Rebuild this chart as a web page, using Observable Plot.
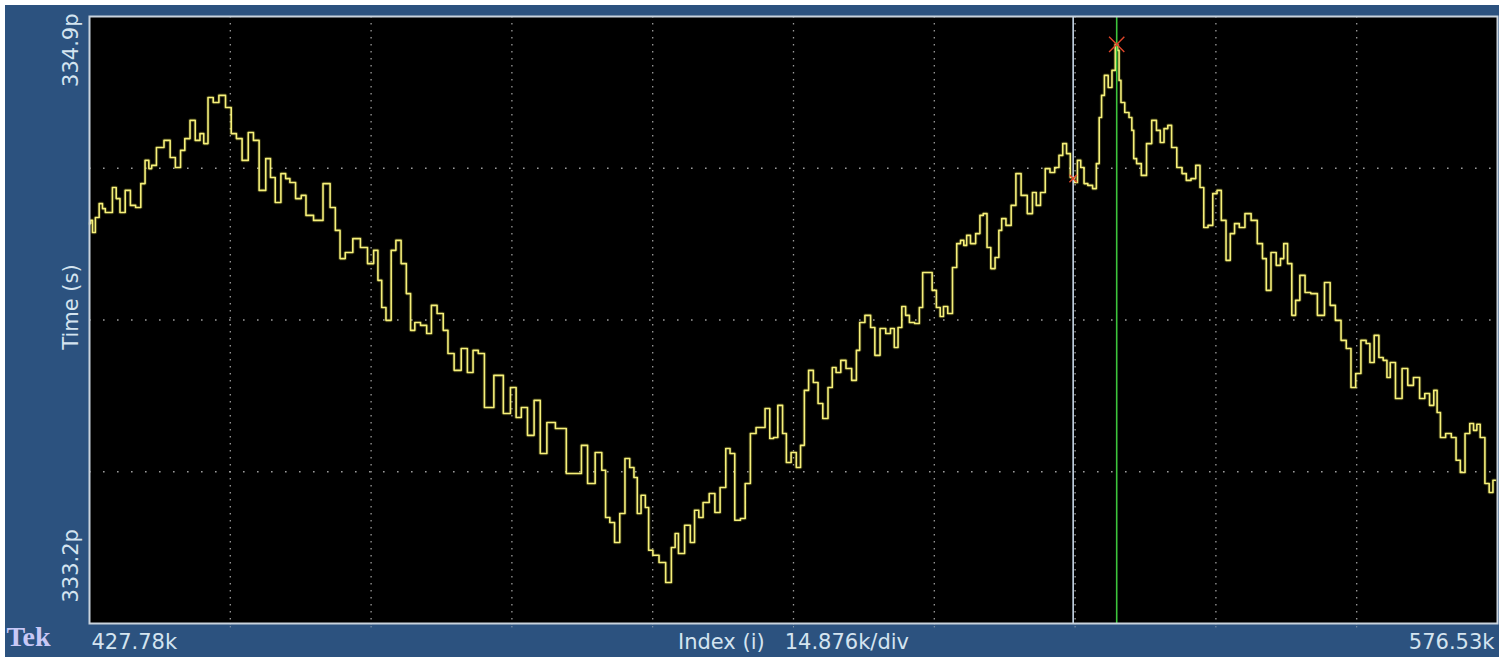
<!DOCTYPE html>
<html>
<head>
<meta charset="utf-8">
<script src="https://cdn.jsdelivr.net/npm/d3@7"></script>
<script src="https://cdn.jsdelivr.net/npm/@observablehq/plot@0.6"></script>
<style>
  html, body { margin: 0; padding: 0; background: #ffffff; }
  #chart { padding: 5px 0 0 5px; }
</style>
</head>
<body>
<div id="chart"></div>
<script>
// Acquisition window (index, in k samples) and vertical window (time, in ps)
const indexRange = [427.78, 576.53];
const timeRange = [333.2, 334.9];
const xDivisions = 10;
const yDivisions = 4;

// Trace: sample index (k) and measured time (ps)
const index = [
  427.8, 428.0, 428.2, 428.6, 429.0, 429.3, 429.6, 430.0, 430.4, 430.8,
  431.2, 431.9, 432.3, 433.0, 433.4, 433.9, 434.2, 434.5, 435.2, 436.1,
  436.5, 437.2, 437.6, 438.1, 438.7, 439.2, 439.7, 440.0, 440.6, 441.1,
  441.8, 442.5, 443.0, 443.6, 444.2, 444.9, 445.3, 446.1, 446.7, 447.1,
  447.7, 448.3, 448.7, 449.2, 449.9, 450.4, 450.9, 452.0, 452.9, 453.5,
  454.0, 454.5, 455.1, 456.1, 456.7, 457.6, 458.0, 458.5, 458.8, 459.4,
  459.9, 460.4, 461.0, 461.5, 461.9, 462.4, 463.1, 463.7, 464.1, 464.9,
  465.4, 465.9, 466.7, 467.4, 468.0, 468.6, 469.1, 469.9, 471.1, 471.9,
  472.6, 473.1, 473.7, 474.4, 475.1, 475.7, 476.5, 477.5, 478.8, 479.4,
  480.1, 480.7, 481.7, 482.1, 482.5, 483.0, 483.5, 484.1, 484.6, 485.1,
  485.5, 485.8, 486.3, 486.7, 487.0, 487.6, 488.3, 489.0, 489.5, 489.8,
  490.2, 491.1, 491.4, 492.0, 492.3, 492.9, 493.6, 494.1, 494.7, 495.3,
  495.6, 496.3, 496.8, 497.3, 497.9, 498.5, 498.9, 499.4, 499.9, 500.2,
  500.8, 501.2, 501.6, 502.2, 502.7, 503.1, 503.5, 504.0, 504.5, 505.0,
  505.5, 506.1, 506.4, 506.9, 507.4, 508.0, 508.6, 509.0, 509.3, 510.1,
  510.5, 511.0, 511.6, 512.2, 512.6, 513.0, 513.4, 513.8, 514.2, 514.6,
  515.3, 515.6, 516.0, 516.6, 517.0, 517.5, 517.8, 518.2, 518.7, 519.2,
  519.6, 520.0, 520.3, 520.6, 521.1, 521.7, 522.0, 522.4, 522.8, 523.2,
  523.7, 524.0, 524.3, 524.9, 525.4, 525.9, 526.5, 527.2, 527.6, 528.0,
  528.5, 529.0, 529.5, 530.0, 530.4, 530.8, 531.2, 531.6, 532.0, 532.3,
  532.7, 533.0, 533.5, 534.0, 534.3, 534.6, 534.8, 535.2, 535.6, 536.0,
  536.3, 536.5, 536.6, 536.9, 537.4, 537.8, 538.0, 538.2, 538.6, 539.2,
  539.7, 540.3, 540.7, 541.1, 541.5, 541.9, 542.3, 543.0, 543.4, 543.9,
  544.4, 544.9, 545.3, 545.7, 546.2, 546.7, 547.1, 547.6, 548.1, 548.5,
  549.0, 549.5, 550.2, 550.8, 551.5, 551.9, 552.3, 552.9, 553.4, 553.8,
  554.1, 554.6, 555.0, 555.4, 555.9, 556.5, 557.1, 557.9, 558.6, 559.1,
  559.7, 560.3, 560.8, 561.3, 561.8, 562.4, 562.9, 563.2, 563.8, 564.2,
  564.7, 565.0, 565.4, 566.1, 566.8, 567.3, 568.0, 568.6, 569.1, 569.6,
  570.0, 570.3, 570.7, 571.4, 571.9, 572.4, 572.8, 573.4, 573.8, 574.2,
  574.5, 574.9, 575.5, 575.8, 576.3
];
const time = [
  334.320, 334.329, 334.295, 334.337, 334.376, 334.362, 334.351, 334.351, 334.421, 334.390,
  334.351, 334.413, 334.371, 334.365, 334.432, 334.497, 334.474, 334.483, 334.533, 334.553,
  334.505, 334.477, 334.525, 334.558, 334.609, 334.553, 334.572, 334.544, 334.673, 334.659,
  334.679, 334.645, 334.572, 334.558, 334.497, 334.575, 334.553, 334.413, 334.502, 334.449,
  334.379, 334.460, 334.446, 334.435, 334.390, 334.399, 334.343, 334.329, 334.432, 334.365,
  334.301, 334.222, 334.239, 334.278, 334.253, 334.208, 334.245, 334.161, 334.085, 334.049,
  334.245, 334.273, 334.208, 334.124, 334.021, 334.043, 334.035, 334.012, 334.091, 334.068,
  334.021, 333.956, 333.909, 333.970, 333.903, 333.965, 333.956, 333.805, 333.895, 333.788,
  333.861, 333.777, 333.805, 333.727, 333.825, 333.676, 333.763, 333.746, 333.620, 333.620,
  333.699, 333.592, 333.679, 333.629, 333.497, 333.483, 333.427, 333.508, 333.662, 333.637,
  333.609, 333.508, 333.559, 333.525, 333.405, 333.391, 333.371, 333.315, 333.413, 333.452,
  333.396, 333.475, 333.427, 333.517, 333.497, 333.539, 333.564, 333.511, 333.581, 333.690,
  333.676, 333.489, 333.494, 333.592, 333.732, 333.749, 333.749, 333.802, 333.718, 333.721,
  333.811, 333.732, 333.651, 333.679, 333.637, 333.699, 333.853, 333.909, 333.875, 333.816,
  333.774, 333.861, 333.917, 333.903, 333.937, 333.914, 333.881, 333.965, 334.043, 334.063,
  334.029, 333.951, 334.026, 334.012, 334.026, 333.973, 334.029, 334.088, 334.063, 334.043,
  334.040, 334.085, 334.183, 334.183, 334.133, 334.085, 334.060, 334.088, 334.068, 334.197,
  334.264, 334.273, 334.259, 334.287, 334.264, 334.292, 334.343, 334.348, 334.253, 334.194,
  334.225, 334.301, 334.334, 334.315, 334.371, 334.460, 334.399, 334.348, 334.407, 334.371,
  334.407, 334.474, 334.463, 334.477, 334.511, 334.544, 334.516, 334.449, 334.435, 334.497,
  334.477, 334.432, 334.427, 334.418, 334.488, 334.617, 334.679, 334.735, 334.701, 334.749,
  334.822, 334.805, 334.721, 334.659, 334.631, 334.617, 334.581, 334.502, 334.488, 334.455,
  334.544, 334.609, 334.581, 334.547, 334.586, 334.595, 334.533, 334.477, 334.460, 334.441,
  334.446, 334.483, 334.421, 334.309, 334.315, 334.404, 334.413, 334.329, 334.217, 334.292,
  334.320, 334.309, 334.348, 334.329, 334.264, 334.222, 334.133, 334.239, 334.203, 334.222,
  334.264, 334.208, 334.063, 334.105, 334.175, 334.127, 334.124, 334.063, 334.155, 334.091,
  334.049, 333.993, 333.970, 333.861, 333.900, 333.993, 333.984, 333.931, 334.007, 333.945,
  333.937, 333.889, 333.931, 333.830, 333.914, 333.867, 333.889, 333.830, 333.844, 333.811,
  333.853, 333.791, 333.721, 333.732, 333.721, 333.657, 333.623, 333.732, 333.760, 333.741,
  333.758, 333.721, 333.592, 333.567, 333.601
];

// Cursors (index, k) and the trace readings where they cross it (ps)
const cursorIndex = [531.7, 536.3];
const cursorTime = [334.446, 334.822];

// Labels
const yLabels = ["333.2p", "334.9p"];
const yTitle = "Time (s)";
const xLabels = ["427.78k", "576.53k"];
const xTitle = "Index (i)   14.876k/div";
const brand = "Tek";

// ---------------------------------------------------------------
const trace = index.map((i, k) => ({i, t: time[k]}));
const xDivs = d3.range(xDivisions + 1).map(k => indexRange[0] + k * (indexRange[1] - indexRange[0]) / xDivisions);
const yDivs = d3.range(yDivisions + 1).map(k => timeRange[0] + k * (timeRange[1] - timeRange[0]) / yDivisions);
const markers = cursorIndex.map((i, k) => ({i, t: cursorTime[k], size: k === 1 ? 7 : 3.5}));

const labelFill = "#d4e4f0";
const font = "DejaVu Sans";
const labelStyle = {fill: labelFill, fontSize: 21, lineAnchor: "middle"};

const chart = Plot.plot({
  width: 1494,
  height: 652,
  marginLeft: 84,
  marginRight: 2,
  marginTop: 11,
  marginBottom: 34,
  x: {domain: indexRange, axis: null},
  y: {type: "linear", domain: timeRange, axis: null},
  r: {type: "identity"},
  style: {background: "#2c527f", fontFamily: font, overflow: "visible"},
  marks: [
    Plot.frame({fill: "#000000"}),
    // dotted graticule
    Plot.ruleX(xDivs.slice(1, -1), {stroke: "#9a9a9a", strokeWidth: 1.3, strokeDasharray: "1.4,5.6"}),
    Plot.ruleY(yDivs.slice(1, -1), {stroke: "#9a9a9a", strokeWidth: 1.3, strokeDasharray: "1.6,12.4"}),
    // short division marks under the bottom edge
    Plot.ruleX(xDivs.slice(1, -1), {y1: timeRange[0], y2: timeRange[0], insetBottom: -5, stroke: "#8a9aaa", strokeWidth: 1, strokeDasharray: "1.4,1.6"}),
    // waveform
    Plot.line(trace, {x: "i", y: "t", curve: "step", stroke: "#d8d040", strokeWidth: 3.6, strokeOpacity: 0.2}),
    Plot.line(trace, {x: "i", y: "t", curve: "step", stroke: "#f6f07a", strokeWidth: 1.6}),
    // cursors
    Plot.ruleX(cursorIndex.slice(0, 1), {stroke: "#c6d6e6", strokeWidth: 1.6}),
    Plot.ruleX(cursorIndex.slice(1, 2), {stroke: "#3cc43c", strokeWidth: 1.6}),
    Plot.dot(markers, {x: "i", y: "t", symbol: "times", r: "size", stroke: "#e0462a", strokeWidth: 1.4}),
    Plot.frame({stroke: "#c9d3dd", strokeWidth: 2}),
    // vertical labels
    Plot.text([yLabels[1]], {...labelStyle, frameAnchor: "top-left", rotate: -90, textAnchor: "end", dx: -18, dy: -3}),
    Plot.text([yLabels[0]], {...labelStyle, frameAnchor: "bottom-left", rotate: -90, textAnchor: "start", dx: -18, dy: -21}),
    Plot.text([yTitle], {...labelStyle, frameAnchor: "left", rotate: -90, textAnchor: "middle", dx: -18, dy: -13}),
    // horizontal labels
    Plot.text([indexRange[0]], {...labelStyle, x: d => d, text: () => xLabels[0], frameAnchor: "bottom", textAnchor: "start", dx: 2, dy: 19}),
    Plot.text([indexRange[1]], {...labelStyle, x: d => d, text: () => xLabels[1], frameAnchor: "bottom", textAnchor: "end", dx: -3, dy: 19}),
    Plot.text([xTitle], {...labelStyle, frameAnchor: "bottom", dy: 19}),
    Plot.text([brand], {frameAnchor: "bottom-left", textAnchor: "start", lineAnchor: "middle", dx: -83, dy: 14, fill: "#c8c8f6", fontSize: 28, fontWeight: "bold", fontFamily: "Liberation Serif"})
  ]
});

document.getElementById("chart").appendChild(chart);
</script>
</body>
</html>
